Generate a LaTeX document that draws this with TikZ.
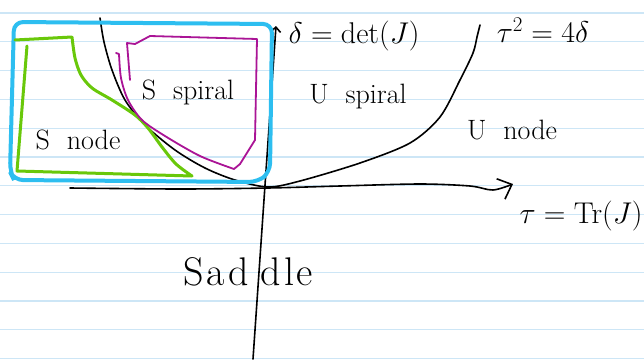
\RequirePackage{fix-cm}
\documentclass[tikz,border=0pt]{standalone}
\usetikzlibrary{arrows.meta}
\definecolor{paperline}{RGB}{205,230,246}
\definecolor{sblue}{RGB}{45,190,240}
\definecolor{sgreen}{RGB}{105,200,10}
\definecolor{smagenta}{RGB}{170,20,150}
\tikzset{
  ink/.style={line width=1.6pt, line cap=round, line join=round},
  lbl/.style={inner sep=0pt, font=\fontsize{28}{30}\selectfont},
  mathlbl/.style={inner sep=0pt, font=\fontsize{30}{32}\selectfont}
}
\begin{document}
\begin{tikzpicture}[x=1pt,y=-1pt,>={Straight Barb[length=12pt,width=22pt]},thick]
  \useasboundingbox (0,0) rectangle (644,359);
  \fill[white] (0,0) rectangle (644,359);
  % ruled paper
  \foreach \k in {0,...,12}
    \draw[paperline, line width=1.2pt] (0,13+28.8*\k) -- (644,13+28.8*\k);

  % axes
  \coordinate (origin) at (268,188);
  \draw[ink,->] plot[smooth] coordinates {(70,188) (180,189) (268,188) (340,186) (420,184) (470,186) (493,190) (513,184)};
  \draw[ink,<-,>={Straight Barb[length=5pt,width=10pt]}] (276,26) -- (253,359);

  % tau^2 = 4 delta
  \draw[ink] plot[smooth] coordinates {(100,18) (104,42) (112,70) (125,100) (145,125) (175,150) (205,168) (235,180) (268,187) (300,181) (360,163) (410,143) (440,117) (460,80) (473,53) (477,37) (480,25)};

  % stable region
  \draw[sblue, line width=4pt, rounded corners=9pt, line cap=round]
    (14,22) -- (272,24) -- (270,172) -- (258,182) -- (14,180) -- (10,172) -- cycle;
  % stable node
  \draw[sgreen, line width=3pt, line cap=round, line join=round]
    (15,40) -- (72,37) plot[smooth] coordinates {(72,37) (75,58) (81,75) (92,88) (112,100) (135,115) (148,128) (162,147) (176,164) (192,176)}
    -- (17,171) -- (27,46);
  % stable spiral
  \draw[smagenta, line width=1.8pt, line cap=round, line join=round]
    (116,53) -- (119,54) plot[smooth] coordinates {(119,54) (121,78) (128,100) (142,120) (165,136) (200,156) (234,169)}
    -- (240,164) -- (255,140) -- (257,39) -- (150,36) -- (135,44) -- (127,43) -- (130,80);

  % labels
  \node[mathlbl] (detlabel) at (354,36) {$\delta = \det(J)$};
  \node[mathlbl] (paralabel) at (543,30) {$\tau^2 = 4\delta$};
  \node[lbl] (uspiral) at (358,97) {U\ \ spiral};
  \node[lbl] (unode) at (512,130) {U\ \ node};
  \node[mathlbl] (tracelabel) at (581,216) {$\tau = \mathrm{Tr}(J)$};
  \node[lbl] (sspiral) at (188,92) {S\ \ spiral};
  \node[lbl] (snode) at (78,140) {S\ \ node};
  \node[inner sep=0pt, font=\fontsize{40}{42}\selectfont] (saddle) at (248,272)
    {S\kern3pt a\kern3pt d\kern12pt d\kern3pt l\kern2pt e};
\end{tikzpicture}
\end{document}
